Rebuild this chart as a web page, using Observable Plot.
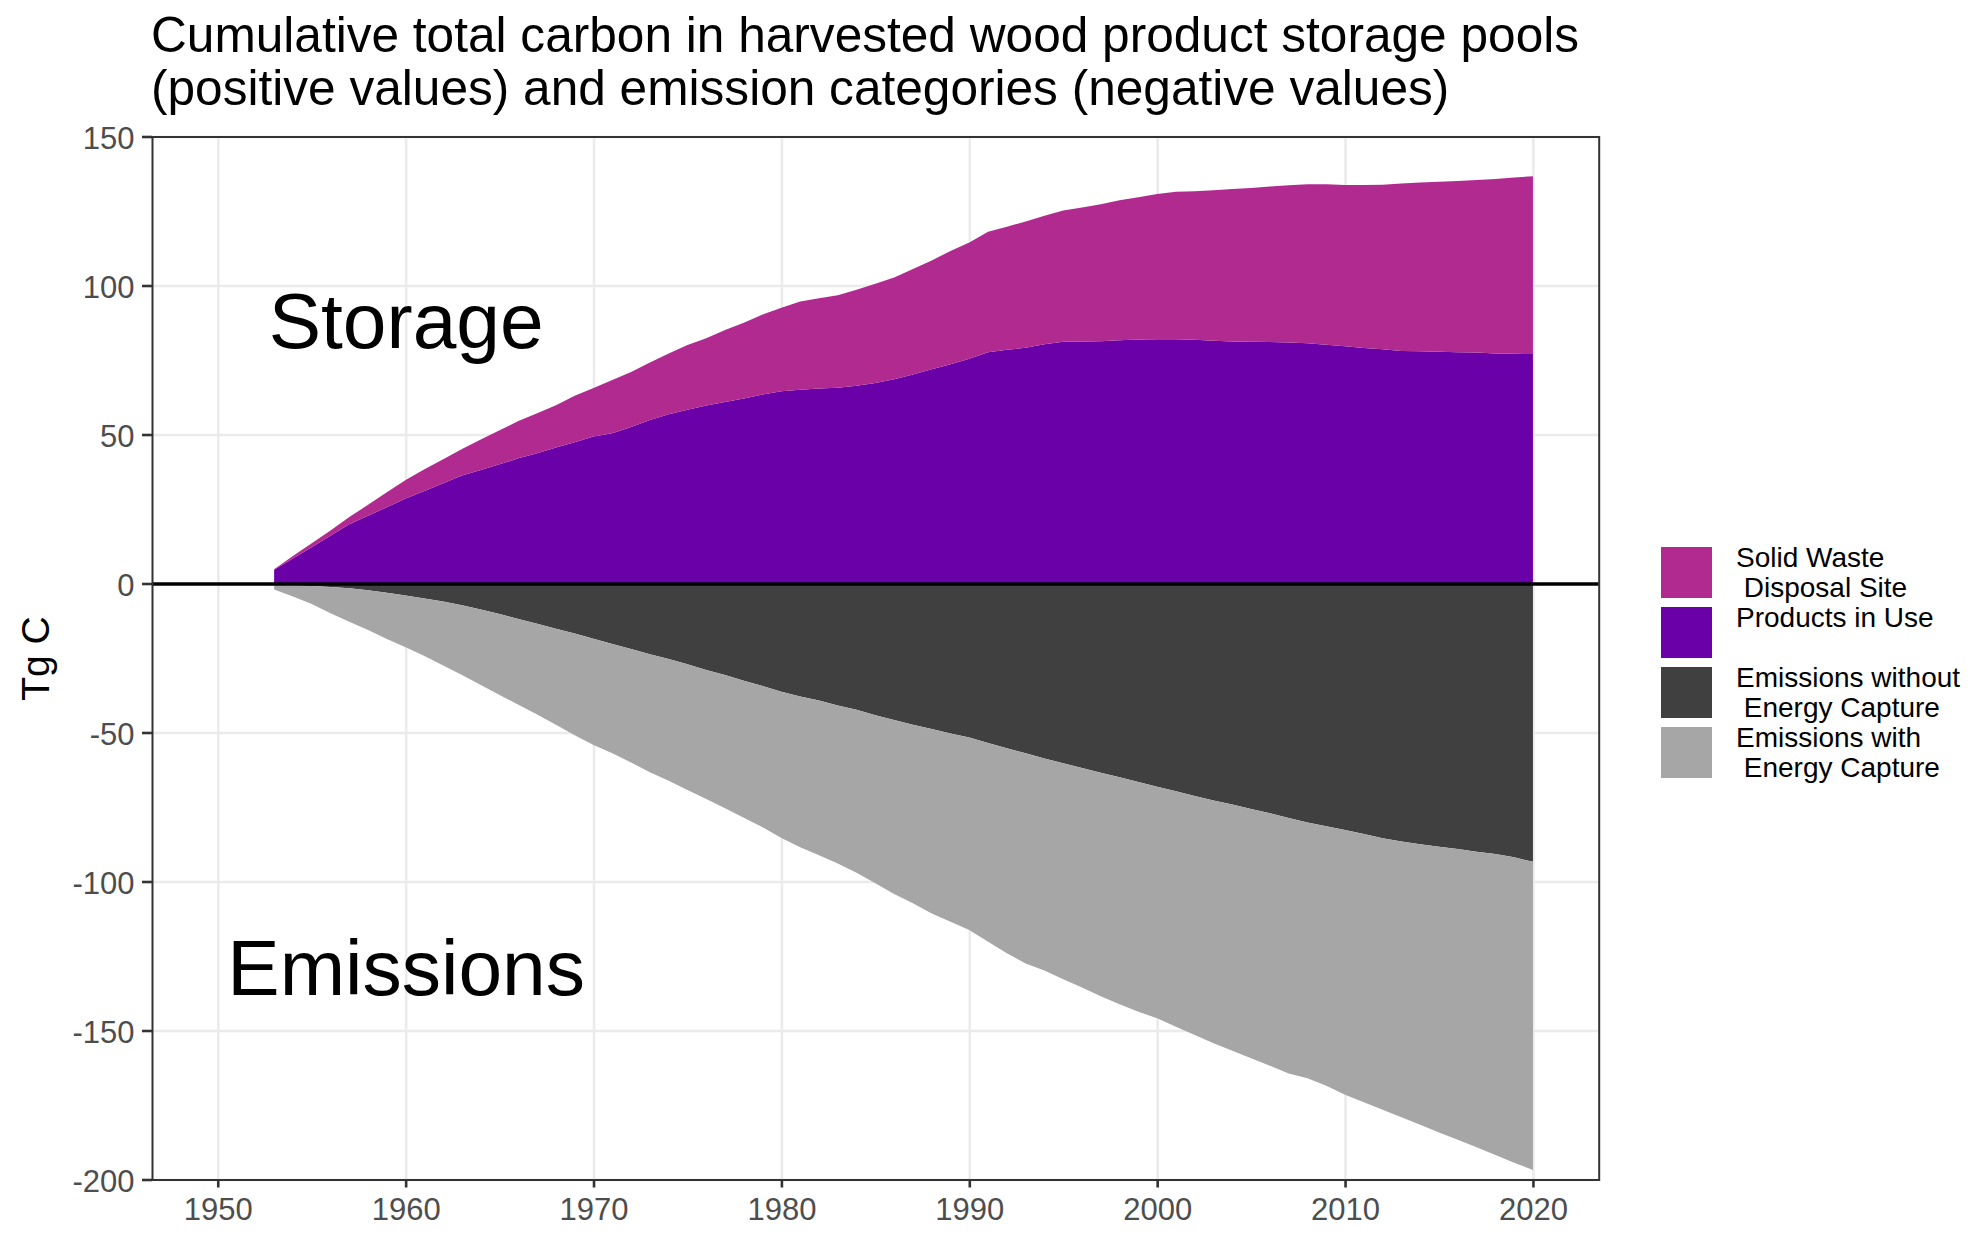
<!DOCTYPE html>
<html>
<head>
<meta charset="utf-8">
<script src="https://cdn.jsdelivr.net/npm/d3@7"></script>
<script src="https://cdn.jsdelivr.net/npm/@observablehq/plot@0.6"></script>
<style>
  body { margin: 0; background: #ffffff; }
  #wrap { position: relative; width: 1984px; height: 1239px; overflow: hidden; background: #ffffff; }
  #wrap svg { display: block; }
  #legend { position: absolute; left: 0; top: 0; pointer-events: none; }
</style>
</head>
<body>
<div id="wrap"></div>
<script>
// ---------- data ----------
const titleLines = [
  "Cumulative total carbon in harvested wood product storage pools",
  "(positive values) and emission categories (negative values)"
];
const yLabel = "Tg C";
const firstYear = 1953;
const lastYear = 2020;
const xTicks = [1950, 1960, 1970, 1980, 1990, 2000, 2010, 2020];
const yTicks = [-200, -150, -100, -50, 0, 50, 100, 150];

const seriesNames = [
  "Solid Waste Disposal Site",
  "Products in Use",
  "Emissions without Energy Capture",
  "Emissions with Energy Capture"
];
const seriesColors = ["#B12A90", "#6A00A8", "#404040", "#A6A6A6"];
const legendLabels = [
  ["Solid Waste", " Disposal Site"],
  ["Products in Use"],
  ["Emissions without", " Energy Capture"],
  ["Emissions with", " Energy Capture"]
];
// stacking order outward from zero
const stackOrder = [
  "Products in Use",
  "Solid Waste Disposal Site",
  "Emissions without Energy Capture",
  "Emissions with Energy Capture"
];

// values per year, 1953..2020 (Tg C)
const productsInUse = [
  4.6, 8.4, 12.2, 16.0, 19.9, 22.7, 25.6, 28.5, 31.0, 33.6,
  36.2, 38.1, 40.0, 42.0, 43.7, 45.6, 47.4, 49.3, 50.4, 52.5,
  54.9, 56.8, 58.3, 59.7, 60.9, 62.1, 63.4, 64.5, 65.0, 65.4,
  65.7, 66.4, 67.3, 68.5, 70.1, 71.9, 73.6, 75.4, 77.6, 78.4,
  79.1, 80.3, 81.1, 81.2, 81.3, 81.6, 81.9, 82.0, 82.0, 81.8,
  81.5, 81.2, 81.1, 81.0, 80.9, 80.6, 80.1, 79.6, 79.0, 78.6,
  78.0, 77.9, 77.8, 77.6, 77.5, 77.2, 77.1, 77.0
];
const solidWaste = [
  0.2, 0.8, 1.3, 1.8, 2.4, 3.7, 5.0, 6.2, 7.3, 8.1,
  8.9, 10.2, 11.4, 12.5, 13.4, 14.2, 15.6, 16.3, 17.9, 18.5,
  19.3, 20.4, 21.7, 22.6, 24.2, 25.4, 26.9, 28.0, 29.6, 30.3,
  31.0, 32.2, 33.3, 34.2, 35.4, 36.5, 38.0, 39.0, 40.4, 41.3,
  42.4, 43.1, 44.1, 45.0, 46.0, 47.0, 47.7, 48.7, 49.5, 49.8,
  50.5, 51.2, 51.6, 52.2, 52.7, 53.4, 53.9, 54.1, 54.7, 55.2,
  56.2, 56.7, 57.0, 57.5, 57.9, 58.5, 59.1, 59.7
];
const emissionsWithout = [
  -0.5, -0.6, -0.8, -1.2, -1.6, -2.3, -3.1, -4.0, -5.0, -6.0,
  -7.3, -8.7, -10.2, -11.9, -13.5, -15.2, -16.8, -18.5, -20.3, -22.0,
  -23.7, -25.3, -27.1, -29.0, -30.7, -32.6, -34.4, -36.3, -37.9, -39.3,
  -40.9, -42.4, -44.2, -45.8, -47.4, -48.8, -50.3, -51.7, -53.5, -55.3,
  -57.0, -58.7, -60.3, -61.9, -63.5, -65.0, -66.6, -68.2, -69.7, -71.3,
  -72.8, -74.2, -75.7, -77.1, -78.7, -80.2, -81.5, -82.7, -84.1, -85.5,
  -86.6, -87.5, -88.3, -89.1, -90.0, -90.8, -91.9, -93.4
];
const emissionsWith = [
  -1.5, -3.8, -6.1, -8.8, -11.2, -13.3, -15.5, -17.4, -19.3, -21.5,
  -23.4, -25.4, -27.2, -28.8, -30.5, -32.2, -34.1, -35.7, -36.7, -38.1,
  -39.6, -40.9, -42.2, -43.3, -44.7, -46.0, -47.4, -49.1, -50.6, -51.9,
  -53.1, -54.7, -56.4, -58.4, -59.9, -61.9, -63.2, -64.6, -66.7, -68.8,
  -70.5, -71.2, -72.5, -73.7, -75.0, -76.2, -77.1, -77.7, -79.0, -80.2,
  -81.5, -82.6, -83.6, -84.7, -85.7, -85.8, -87.0, -88.9, -90.0, -91.1,
  -92.5, -94.1, -95.9, -97.6, -99.2, -101.0, -102.5, -103.4
];

const annotationLabels = ["Storage", "Emissions"];
const annotationX = [1960, 1960];
const annotationY = [87.6, -129.4];

// ---------- build tidy table ----------
const years = d3.range(firstYear, lastYear + 1);
const seriesValues = {
  "Solid Waste Disposal Site": solidWaste,
  "Products in Use": productsInUse,
  "Emissions without Energy Capture": emissionsWithout,
  "Emissions with Energy Capture": emissionsWith
};
const tidy = [];
for (const name of stackOrder) {
  seriesValues[name].forEach((v, i) => tidy.push({year: years[i], value: v, series: name}));
}
const annotations = annotationLabels.map((t, i) => ({label: t, x: annotationX[i], y: annotationY[i]}));

const FONT = "'Liberation Sans', Arial, Helvetica, sans-serif";
const wrap = document.getElementById("wrap");

// ---------- title ----------
const titleSvg = d3.create("svg").attr("width", 1984).attr("height", 120);
titleLines.forEach((t, i) => {
  titleSvg.append("text")
    .attr("x", 151).attr("y", 52 + 53 * i)
    .attr("font-family", FONT).attr("font-size", 49.6).attr("fill", "#000")
    .text(t);
});
wrap.appendChild(titleSvg.node());

// ---------- chart ----------
const chart = Plot.plot({
  width: 1984,
  height: 1119,
  marginTop: 16.5,
  marginBottom: 59.5,
  marginLeft: 152,
  marginRight: 385.3,
  style: {fontFamily: FONT, background: "white", overflow: "visible"},
  x: {domain: [1946.5, 2023.5]},
  y: {domain: [-200, 150]},
  color: {domain: seriesNames, range: seriesColors},
  marks: [
    Plot.gridX({ticks: xTicks, stroke: "#EBEBEB", strokeOpacity: 1, strokeWidth: 2.6}),
    Plot.gridY({ticks: yTicks, stroke: "#EBEBEB", strokeOpacity: 1, strokeWidth: 2.6}),
    Plot.areaY(tidy, {x: "year", y: "value", z: "series", fill: "series", order: stackOrder, curve: "linear"}),
    Plot.ruleY([0], {stroke: "#000", strokeWidth: 3.5}),
    Plot.frame({stroke: "#333333", strokeWidth: 2}),
    Plot.axisX({ticks: xTicks, tickSize: 8, tickPadding: 10, fontSize: 31, tickFormat: d => String(d),
                stroke: "#333333", strokeWidth: 2.6, fill: "#4D4D4D", label: null}),
    Plot.axisY({ticks: yTicks, tickSize: 10, tickPadding: 8, tickFormat: d => String(d),
                stroke: "#333333", strokeWidth: 2.6, fill: "none", label: null}),
    Plot.axisY({ticks: yTicks, tickSize: 10, tickPadding: 8, fontSize: 31, tickFormat: d => String(d),
                stroke: "none", fill: "#4D4D4D", dy: 2.5, label: null}),
    Plot.text([yLabel], {text: d => d, frameAnchor: "left", textAnchor: "middle", lineAnchor: "middle",
                         dx: -115.5, rotate: -90, fontSize: 39, fill: "#000"}),
    Plot.text(annotations, {x: "x", y: "y", text: "label", fontSize: 78.5, fill: "#000"})
  ]
});
wrap.appendChild(chart);

// ---------- legend ----------
const legend = d3.create("svg").attr("id", "legend").attr("width", 1984).attr("height", 1239);
seriesNames.forEach((name, i) => {
  const top = 547 + 60 * i;
  legend.append("rect")
    .attr("x", 1661).attr("y", top).attr("width", 51).attr("height", 51)
    .attr("fill", seriesColors[i]);
  legendLabels[i].forEach((line, j) => {
    legend.append("text")
      .attr("x", 1736).attr("y", top + 20 + 30 * j)
      .attr("font-family", FONT).attr("font-size", 28).attr("fill", "#000")
      .style("white-space", "pre")
      .text(line);
  });
});
wrap.appendChild(legend.node());
</script>
</body>
</html>
